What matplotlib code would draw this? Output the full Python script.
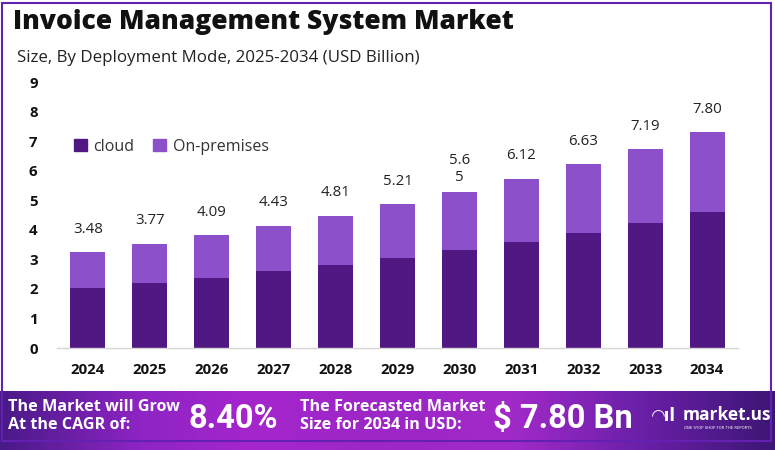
import matplotlib
matplotlib.use("Agg")
import matplotlib.pyplot as plt
import numpy as np
from matplotlib.colors import LinearSegmentedColormap
from matplotlib.patches import Rectangle

years = ["2024", "2025", "2026", "2027", "2028", "2029", "2030", "2031", "2032", "2033", "2034"]
cloud = [2.02, 2.19, 2.38, 2.61, 2.82, 3.05, 3.30, 3.58, 3.90, 4.23, 4.60]
on_premises = [1.23, 1.34, 1.44, 1.53, 1.66, 1.82, 1.97, 2.15, 2.31, 2.50, 2.71]
total_labels = ["3.48", "3.77", "4.09", "4.43", "4.81", "5.21", "5.6\n5", "6.12", "6.63", "7.19", "7.80"]
y_ticks = [0, 1, 2, 3, 4, 5, 6, 7, 8, 9]

TITLE = "Invoice Management System Market"
SUBTITLE = "Size, By Deployment Mode, 2025-2034 (USD Billion)"
CAGR_TEXT = "The Market will Grow\nAt the CAGR of:"
CAGR_VALUE = "8.40%"
FORECAST_TEXT = "The Forecasted Market\nSize for 2034 in USD:"
FORECAST_VALUE = "$ 7.80 Bn"

C_CLOUD = "#4f1882"
C_ONPREM = "#8b50ca"

fig = plt.figure(figsize=(7.75, 4.5), dpi=100)
fig.patch.set_facecolor("white")

# outer border
fig.patches.append(Rectangle((0.003, 0.02), 0.992, 0.974, transform=fig.transFigure,
                             fill=False, edgecolor="#6420b0", linewidth=1.5, zorder=0))

ax = fig.add_axes([57 / 775, 1 - 348 / 450, (738 - 57) / 775, (348 - 82) / 450])
x = np.arange(len(years))
bw = 0.565
ax.bar(x, cloud, width=bw, color=C_CLOUD, zorder=2)
ax.bar(x, on_premises, width=bw, bottom=cloud, color=C_ONPREM, zorder=2)

tops = np.array(cloud) + np.array(on_premises)
for xi, t, lab in zip(x, tops, total_labels):
    ax.annotate(lab, (xi, t), xytext=(0, 5 if "\n" in lab else 11), textcoords="offset points",
                ha="center", va="bottom", fontsize=10.8, color="#222222",
                family="Open Sans", linespacing=1.2)

ax.set_xlim(-0.5, 10.5)
ax.set_ylim(0, 9)
ax.set_yticks(y_ticks)
ax.set_yticklabels([str(v) for v in y_ticks], fontsize=10.8, fontweight="bold", family="Open Sans", color="#111111")
ax.set_xticks(x)
ax.set_xticklabels(years, fontsize=10.8, fontweight="bold", family="Open Sans", color="#111111")
ax.tick_params(axis="y", length=0, pad=14)
ax.tick_params(axis="x", length=0, pad=11)
for s in ["top", "right", "left"]:
    ax.spines[s].set_visible(False)
ax.spines["bottom"].set_color("#d6d6d6")
ax.spines["bottom"].set_linewidth(1.0)
ax.set_facecolor("none")

# legend
leg_handles = [Rectangle((0, 0), 1, 1, color=C_CLOUD), Rectangle((0, 0), 1, 1, color=C_ONPREM)]
ax.legend(leg_handles, ["cloud", "On-premises"], loc="upper left", bbox_to_anchor=(0.004, 0.84),
          ncol=2, frameon=False, handlelength=0.8, handleheight=0.8,
          handletextpad=0.4, columnspacing=1.2, prop={"family": "Open Sans", "size": 11.5},
          labelcolor="#333333")

fig.text(13 / 775, 1 - 22 / 450, TITLE, fontsize=19.0, fontweight=800, family="Open Sans",
         color="#111111", ha="left", va="center")
fig.text(17 / 775, 1 - 58 / 450, SUBTITLE, fontsize=12.2, family="Open Sans",
         color="#222222", ha="left", va="center")

# bottom banner with gradient
bax = fig.add_axes([0, 0, 1, 59 / 450])
cmap = LinearSegmentedColormap.from_list("banner", [
    (0.0, "#4a1a88"), (0.18, "#8e24c4"), (0.32, "#a526cc"), (0.5, "#9c27c6"),
    (0.66, "#a22ac9"), (0.82, "#6d20aa"), (1.0, "#3d1676")])
grad = np.linspace(0, 1, 400).reshape(1, -1)
bax.imshow(grad, aspect="auto", cmap=cmap, extent=(0, 1, 0, 1))
bax.set_xlim(0, 1)
bax.set_ylim(0, 1)
bax.axis("off")

bax.text(8 / 775, 0.57, CAGR_TEXT, fontsize=11.6, fontweight="bold", family="Open Sans",
         color="white", ha="left", va="center", linespacing=1.15)
bax.text(188 / 775, 0.53, CAGR_VALUE, fontsize=23.5, fontweight="bold", family="Roboto",
         color="white", ha="left", va="center")
bax.text(300 / 775, 0.57, FORECAST_TEXT, fontsize=11.6, fontweight="bold", family="Open Sans",
         color="white", ha="left", va="center", linespacing=1.15)
bax.text(493 / 775, 0.53, FORECAST_VALUE, fontsize=23.5, fontweight="bold", family="Roboto",
         color="white", ha="left", va="center")

# logo
bax.text(652 / 775, 0.57, "\u25e0\u0131l", fontsize=12, fontweight="bold", color="white",
         ha="left", va="center", family="DejaVu Sans")
bax.text(683 / 775, 0.60, "market.us", fontsize=12.5, fontweight="bold", family="Open Sans",
         color="white", ha="left", va="center")
bax.text(684 / 775, 0.38, "ONE STOP SHOP FOR THE REPORTS", fontsize=2.7, family="DejaVu Sans",
         color="white", ha="left", va="center")

fig.savefig("out.png", dpi=100)
